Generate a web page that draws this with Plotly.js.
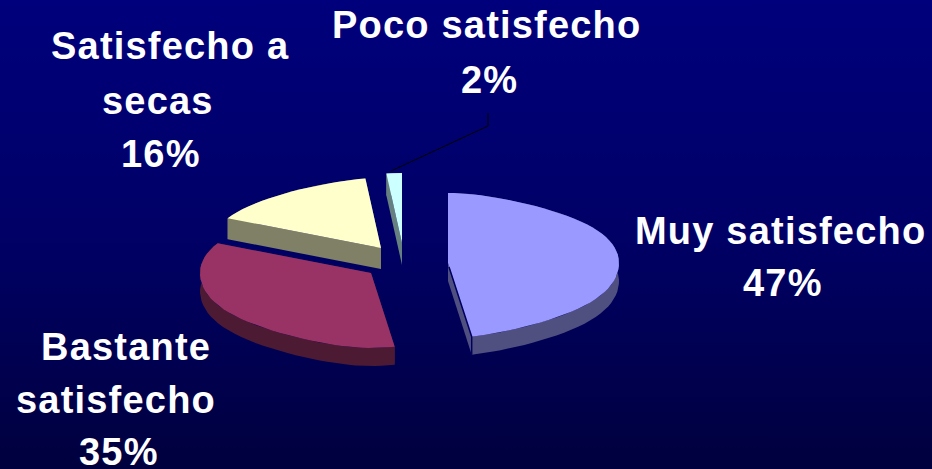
<!DOCTYPE html>
<html>
<head>
<meta charset="utf-8">
<script src="https://cdn.plot.ly/plotly-3.0.1.min.js"></script>
<style>
html,body{margin:0;padding:0;width:932px;height:469px;overflow:hidden;
background:linear-gradient(180deg,#00007c 0%,#000066 50%,#00003e 100%);}
#chart{width:932px;height:469px;}
.annotation-text{letter-spacing:1.2px;}
</style>
</head>
<body>
<div id="chart"></div>
<script>
// Data
const categories = ["Muy satisfecho", "Bastante satisfecho", "Satisfecho a secas", "Poco satisfecho"];
const values = [47, 35, 16, 2];
const faceColors = ["#9999ff", "#993366", "#ffffcc", "#ccffff"];
const sideColors = ["#4f5080", "#4d1a33", "#808066", "#668080"];
const labelLines = [
  ["Muy satisfecho", "47%"],
  ["Bastante", "satisfecho", "35%"],
  ["Satisfecho a", "secas", "16%"],
  ["Poco satisfecho", "2%"]
];

// Layout constants (pixel space of the 932x469 picture)
const apexX = [448, 371, 381, 402];
const apexY = [263, 273, 248, 243];
const depths = [18, 18, 21, 22];
const rx = 171, ryBack = 70, ryFront = 75;
const labelX = [[780, 783], [126, 116, 119], [170, 158, 161], [486, 489]];
const labelY = [[231, 283], [347, 400, 452], [46, 101, 154], [25, 80]];
const leaderX = [488, 488, 391];
const leaderY = [113, 126, 171];

function rim(i, deg) {
  const t = deg * Math.PI / 180, c = Math.cos(t), s = Math.sin(t);
  const squeeze = 1 - 0.28 * c * c * c * c;
  return [apexX[i] + rx * s * squeeze, apexY[i] - (c > 0 ? ryBack : ryFront) * c];
}

const total = values.reduce((a, b) => a + b, 0);
const traces = [];
let start = 0;
const drawn = [];
values.forEach((v, i) => {
  const end = start + v / total * 360;
  const arc = [];
  const n = Math.max(2, Math.ceil((end - start) / 3));
  for (let k = 0; k <= n; k++) arc.push(rim(i, start + (end - start) * k / n));
  drawn.push({i, arc});
  start = end;
});

function polygon(xs, ys, color, name) {
  traces.push({x: xs, y: ys, mode: "lines", fill: "toself", fillcolor: color,
    line: {width: 0, color}, hoverinfo: "skip", name});
}

// back slices first, then the front ones
[3, 2, 1, 0].forEach(i => {
  const arc = drawn[i].arc, d = depths[i];
  const first = arc[0], last = arc[arc.length - 1];
  const ax = apexX[i], ay = apexY[i];
  const rev = arc.slice().reverse();
  polygon(arc.map(p => p[0]).concat(rev.map(p => p[0]), [first[0]]),
          arc.map(p => p[1]).concat(rev.map(p => p[1] + d), [first[1]]),
          sideColors[i], categories[i] + " (lado)");
  [first, last].forEach(p => {
    polygon([ax, p[0], p[0], ax, ax], [ay, p[1], p[1] + d, ay + d, ay],
            sideColors[i], categories[i] + " (corte)");
  });
  polygon([ax].concat(arc.map(p => p[0]), [ax]),
          [ay].concat(arc.map(p => p[1]), [ay]),
          faceColors[i], categories[i]);
  if (i === 0) {
    traces.push({x: [ax + 1, last[0], last[0]], y: [ay + 4, last[1], last[1] + d],
      mode: "lines", line: {width: 1.5, color: "#00005e"}, hoverinfo: "skip"});
  }
});

traces.push({x: leaderX, y: leaderY, mode: "lines", line: {width: 1, color: "#000000"}, hoverinfo: "skip"});

const annotations = [];
labelLines.forEach((lines, i) => lines.forEach((text, j) => {
  annotations.push({
    x: labelX[i][j], y: labelY[i][j], xref: "x", yref: "y", text,
    showarrow: false, xanchor: "center", yanchor: "middle",
    font: {family: "Liberation Sans, Arial, sans-serif", size: 38, color: "#ffffff", weight: 700}
  });
}));

const hidden = {visible: false, fixedrange: true};
Plotly.newPlot("chart", traces, {
  width: 932, height: 469,
  margin: {l: 0, r: 0, t: 0, b: 0, pad: 0},
  paper_bgcolor: "rgba(0,0,0,0)", plot_bgcolor: "rgba(0,0,0,0)",
  showlegend: false,
  xaxis: Object.assign({range: [0, 932]}, hidden),
  yaxis: Object.assign({range: [469, 0]}, hidden),
  annotations
}, {displayModeBar: false, staticPlot: true});
</script>
</body>
</html>
